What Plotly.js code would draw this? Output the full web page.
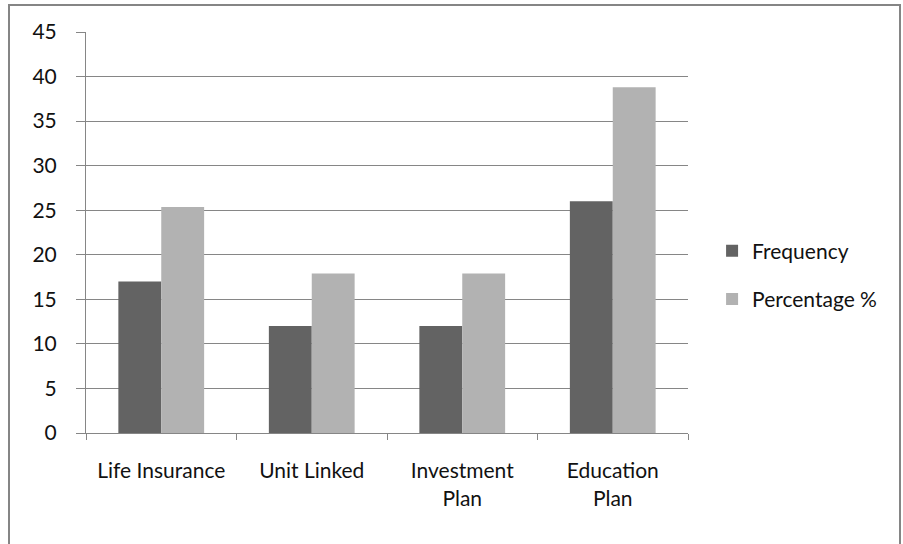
<!DOCTYPE html>
<html>
<head>
<meta charset="utf-8">
<script src="https://cdn.plot.ly/plotly-3.0.1.min.js"></script>
<style>
html,body{margin:0;padding:0;background:#fff;overflow:hidden;}
#frame{position:absolute;left:8px;top:4px;width:893px;height:600px;border:2px solid #858585;box-sizing:border-box;}
#chart{position:absolute;left:0;top:0;width:903px;height:544px;}
</style>
</head>
<body>
<div id="frame"></div>
<div id="chart"></div>
<script>
const categories = ["Life Insurance", "Unit Linked", "Investment<br>Plan", "Education<br>Plan"];
const frequency = [17, 12, 12, 26];
const percentage = [25.37, 17.91, 17.91, 38.81];
const yTicks = [0, 5, 10, 15, 20, 25, 30, 35, 40, 45];

const fontFam = 'Lato, "DejaVu Sans Condensed", Arial, sans-serif';
const fs = 21;

const traces = [
  {type: 'bar', name: 'Frequency', x: categories, y: frequency,
   marker: {color: '#636363'}, legendgroup: 'a', hoverinfo: 'none'},
  {type: 'bar', name: 'Percentage %', x: categories, y: percentage,
   marker: {color: '#b2b2b2'}, legendgroup: 'b', hoverinfo: 'none'}
];

const layout = {
  width: 903, height: 544,
  paper_bgcolor: 'rgba(0,0,0,0)', plot_bgcolor: 'rgba(0,0,0,0)',
  margin: {l: 86, r: 215, t: 32, b: 111},
  barmode: 'group', bargap: 0.43, bargroupgap: 0,
  font: {family: fontFam, size: fs, color: '#111'},
  xaxis: {
    type: 'category',
    showgrid: false, showline: true, linecolor: '#868686', linewidth: 1,
    ticks: 'outside', tickson: 'boundaries', ticklen: 6, tickcolor: '#868686',
    ticklabelstandoff: 19,
    tickfont: {family: fontFam, size: fs, color: '#111'}
  },
  yaxis: {
    range: [0, 45], tickvals: yTicks, ticktext: yTicks.map(String),
    showgrid: true, gridcolor: '#868686', gridwidth: 1,
    showline: true, linecolor: '#868686', linewidth: 1,
    ticks: 'outside', ticklen: 9, tickcolor: '#868686',
    ticklabelstandoff: 15, zeroline: false,
    tickfont: {family: fontFam, size: fs, color: '#111'}
  },
  legend: {
    x: 1.04, y: 0.394, xanchor: 'left', yanchor: 'middle',
    tracegroupgap: 18, traceorder: 'grouped',
    font: {family: fontFam, size: fs, color: '#111'},
    bgcolor: 'rgba(0,0,0,0)'
  },
  showlegend: true
};

Plotly.newPlot('chart', traces, layout, {displayModeBar: false, staticPlot: true});
</script>
</body>
</html>
